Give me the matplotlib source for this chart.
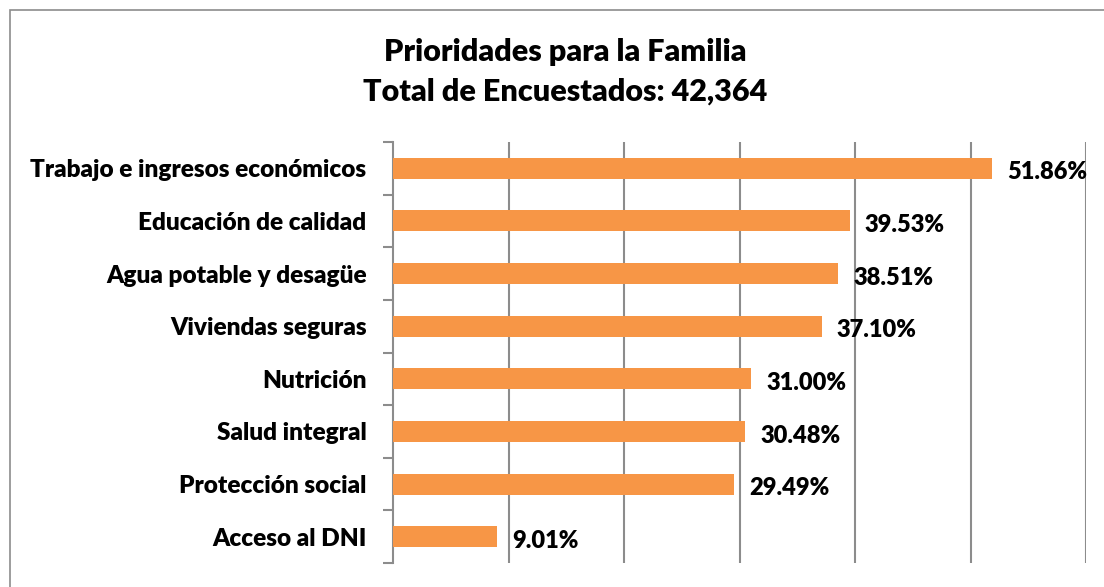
import matplotlib.pyplot as plt
from matplotlib.patches import Rectangle

categories = [
    "Trabajo e ingresos económicos",
    "Educación de calidad",
    "Agua potable y desagüe",
    "Viviendas seguras",
    "Nutrición",
    "Salud integral",
    "Protección social",
    "Acceso al DNI",
]
values = [51.86, 39.53, 38.51, 37.10, 31.00, 30.48, 29.49, 9.01]
title_lines = ["Prioridades para la Familia", "Total de Encuestados: 42,364"]

plt.rcParams["font.family"] = ["Lato", "DejaVu Sans"]

W, H = 1104, 587
fig = plt.figure(figsize=(W / 100, H / 100), dpi=100)

# outer chart border (Excel-style frame, cropped on right/bottom)
fig.patches.append(Rectangle((10 / W, -0.1), 1.2, 1 - 10 / H + 0.1,
                             transform=fig.transFigure, fill=False,
                             edgecolor="#8c8c8c", lw=1.2))

ax = fig.add_axes([393 / W, 1 - 563 / H, (1086 - 393) / W, (563 - 142) / H])

n = len(categories)
ypos = list(range(n))
ax.barh(ypos, values, height=0.4, color="#F79646", zorder=3)
ax.set_ylim(n - 0.5, -0.5)
ax.set_xlim(0, 60)

for y, v in zip(ypos, values):
    ax.annotate(f"{v:.2f}%", (v, y), xytext=(11, -3), textcoords="offset points",
                ha="left", va="center", fontsize=17, fontweight="heavy", zorder=4)

# vertical gridlines
ax.set_xticks([10, 20, 30, 40, 50, 60])
ax.grid(True, axis="x", color="#8c8c8c", lw=1.5, zorder=0)
ax.tick_params(axis="x", length=0, labelbottom=False)

# category labels, ticks at category boundaries
ax.set_yticks([y + 0.5 for y in [-1] + ypos], minor=False)
ax.set_yticklabels([])
ax.set_yticks(ypos, minor=True)
ax.set_yticklabels(categories, minor=True, fontsize=17.6, fontweight="heavy")
ax.tick_params(axis="y", which="major", length=7, width=1.5, color="#8c8c8c",
               direction="out")
ax.tick_params(axis="y", which="minor", length=0, pad=19)

for s in ["top", "right", "bottom"]:
    ax.spines[s].set_visible(False)
ax.spines["left"].set_color("#8c8c8c")
ax.spines["left"].set_linewidth(1.5)

fig.text(565 / W, 1 - 52 / H, title_lines[0], ha="center", va="center",
         fontsize=22, fontweight="heavy")
fig.text(565 / W, 1 - 92 / H, title_lines[1], ha="center", va="center",
         fontsize=22, fontweight="heavy")

fig.savefig("out.png", dpi=100)
